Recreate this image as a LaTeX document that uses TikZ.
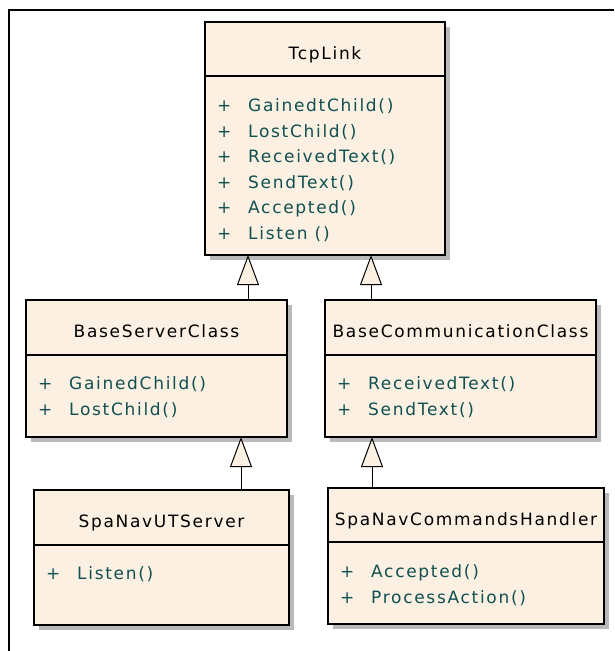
\documentclass[tikz,border=0pt]{standalone}
\usepackage{fontspec}
\newfontfamily\umlfont{DejaVu Sans}[LetterSpace=10]
\usetikzlibrary{arrows.meta,calc}

\definecolor{umlfill}{RGB}{251,240,226}
\definecolor{umlop}{RGB}{16,80,80}
\definecolor{umlshadow}{RGB}{185,185,185}

% class box: name, x, y, width, header height, total height, title
\newcommand\umlclass[7]{%
  \fill[umlshadow] (#2+5,#3+5) rectangle (#2+#4+5,#3+#6+5);
  \node[classbox, minimum width=#4pt, minimum height=#6pt, anchor=north west] (#1) at (#2,#3) {};
  \draw[divider] ($(#1.north west)+(0,#5)$) -- ($(#1.north east)+(0,#5)$);
  \node[titletext] (#1-title) at ($(#1.north)+(0,37.5)$) {#7};
}
% operation row: class name, row index, text
\newcommand\umloper[3]{%
  \node[optext] (#1-plus#2) at ($(#1.north west)+(12,89.5+25.5*#2-25.5)$) {+};
  \node[optext] (#1-op#2) at ($(#1.north west)+(43,89.5+25.5*#2-25.5)$) {#3};
}

\begin{document}
\begin{tikzpicture}[x=1pt,y=-1pt,
  classbox/.style={draw=black, line width=1.6pt, fill=umlfill, inner sep=0pt, outer sep=0pt},
  divider/.style={draw=black, line width=1.3pt},
  titletext/.style={font=\umlfont\fontsize{17}{19}\selectfont, text=black, anchor=base, inner sep=0pt},
  optext/.style={font=\umlfont\fontsize{17}{19}\selectfont, text=umlop, anchor=base west, inner sep=0pt},
  generalization/.style={draw=black, line width=1pt,
    -{Triangle[length=30pt, width=22pt, fill=umlfill, line width=1pt]}},
  frameline/.style={draw=black, line width=2pt}
]
\useasboundingbox (0,0) rectangle (614,651);

% outer frame (top and left edges)
\coordinate (frameTL) at (9,10);
\coordinate (frameTR) at (614,10);
\coordinate (frameBL) at (9,651);
\draw[frameline] (frameTR) -- (frameTL) -- (frameBL);

% classes
\umlclass{tcp}{205}{22}{240}{54}{233}{TcpLink}
\umloper{tcp}{1}{GainedtChild()}
\umloper{tcp}{2}{LostChild()}
\umloper{tcp}{3}{ReceivedText()}
\umloper{tcp}{4}{SendText()}
\umloper{tcp}{5}{Accepted()}
\umloper{tcp}{6}{Listen ()}

\umlclass{bsc}{26}{300}{261}{55}{137}{BaseServerClass}
\umloper{bsc}{1}{GainedChild()}
\umloper{bsc}{2}{LostChild()}

\umlclass{bcc}{325}{300}{271}{55}{137}{BaseCommunicationClass}
\umloper{bcc}{1}{ReceivedText()}
\umloper{bcc}{2}{SendText()}

\umlclass{snut}{34}{490}{255}{55}{135}{SpaNavUTServer}
\umloper{snut}{1}{Listen()}

\umlclass{snch}{328}{488}{276}{54}{136}{SpaNavCommandsHandler}
\umloper{snch}{1}{Accepted()}
\umloper{snch}{2}{ProcessAction()}

% generalization connectors
\coordinate (g1) at (248,0);
\coordinate (g2) at (371,0);
\coordinate (g3) at (241,0);
\coordinate (g4) at (372,0);
\draw[generalization] (bsc.north -| g1) -- (tcp.south -| g1);
\draw[generalization] (bcc.north -| g2) -- (tcp.south -| g2);
\draw[generalization] (snut.north -| g3) -- (bsc.south -| g3);
\draw[generalization] (snch.north -| g4) -- (bcc.south -| g4);
\end{tikzpicture}
\end{document}
